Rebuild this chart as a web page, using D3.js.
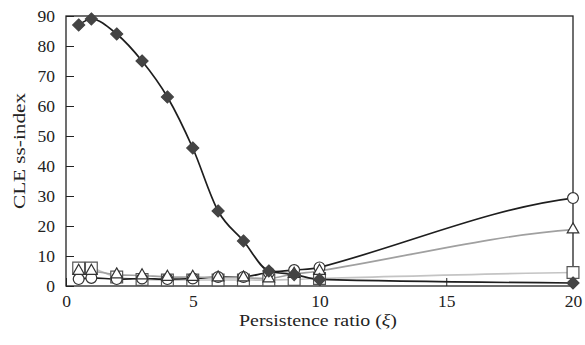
<!DOCTYPE html>
<html>
<head>
<meta charset="utf-8">
<script src="https://cdn.jsdelivr.net/npm/d3@7"></script>
<style>
  body { margin: 0; background: #fff; }
  text { font-family: "Liberation Serif", "DejaVu Serif", serif; fill: #222; }
</style>
</head>
<body>
<svg id="chart" width="585" height="345"></svg>
<script>
// persistence ratio values
const xs = [0.5, 1, 2, 3, 4, 5, 6, 7, 8, 9, 10, 20];
// CLE ss-index per series
const diamondVals  = [87, 89, 84, 75, 63, 46, 25, 15, 5, 3.8, 2.2, 1];
const circleVals   = [2.3, 2.7, 2.3, 2.5, 2.3, 2.5, 3, 3, 4.5, 5.3, 6.2, 29.3];
const triangleVals = [5, 5, 3.8, 3.5, 3, 3, 2.8, 2.8, 2.5, 4, 5, 18.8];
const squareVals   = [6, 6, 3, 2.2, 2, 2, 2, 2, 2, 2.2, 2.5, 4.5];
const xTicks = [0, 5, 10, 15, 20];
const yTicks = [0, 10, 20, 30, 40, 50, 60, 70, 80, 90];

const margin = {top: 16, right: 12, bottom: 59, left: 66};
const width = 585, height = 345;

const svg = d3.select("#chart");

const x = d3.scaleLinear().domain([0, 20]).range([margin.left, width - margin.right]);
const y = d3.scaleLinear().domain([0, 90]).range([height - margin.bottom, margin.top]);

// frame
svg.append("rect")
  .attr("x", x(0)).attr("y", y(90))
  .attr("width", x(20) - x(0)).attr("height", y(0) - y(90))
  .attr("fill", "none").attr("stroke", "#222").attr("stroke-width", 1.3);

// inward ticks
svg.append("g")
  .attr("transform", `translate(0,${y(0)})`)
  .call(d3.axisBottom(x).tickValues(xTicks).tickSizeInner(-8).tickSizeOuter(0).tickPadding(9))
  .call(g => g.select(".domain").remove())
  .call(g => g.selectAll("line").attr("stroke", "#222"))
  .call(g => g.selectAll("text").attr("font-size", 17.5).attr("fill", "#222"));

svg.append("g")
  .attr("transform", `translate(${x(0)},0)`)
  .call(d3.axisLeft(y).tickValues(yTicks).tickSizeInner(-8).tickSizeOuter(0).tickPadding(11))
  .call(g => g.select(".domain").remove())
  .call(g => g.selectAll("line").attr("stroke", "#222"))
  .call(g => g.selectAll("text").attr("font-size", 17.5).attr("fill", "#222"));

// axis titles
svg.append("text")
  .attr("x", 318).attr("y", 326)
  .attr("text-anchor", "middle").attr("font-size", 17.5)
  .attr("textLength", 158).attr("lengthAdjust", "spacingAndGlyphs")
  .html('Persistence ratio (<tspan font-style="italic">ξ</tspan>)');

svg.append("text")
  .attr("transform", `translate(25,${(y(0) + y(90)) / 2}) rotate(-90)`)
  .attr("text-anchor", "middle").attr("font-size", 17.5)
  .attr("textLength", 116).attr("lengthAdjust", "spacingAndGlyphs")
  .text("CLE ss-index");

// hermite curve, central-difference tangents, end tangent eased off
// (the original plot flattens a bit towards xi = 20)
function curveEased(context) {
  let pts;
  return {
    areaStart() {}, areaEnd() {},
    lineStart() { pts = []; },
    point(px, py) { pts.push([+px, +py]); },
    lineEnd() {
      const n = pts.length;
      if (!n) return;
      const m = pts.map((p, i) => {
        if (n < 2) return 0;
        if (i === 0) return (pts[1][1] - p[1]) / (pts[1][0] - p[0]);
        if (i === n - 1) return 0.45 * (p[1] - pts[i - 1][1]) / (p[0] - pts[i - 1][0]);
        return (pts[i + 1][1] - pts[i - 1][1]) / (pts[i + 1][0] - pts[i - 1][0]);
      });
      context.moveTo(pts[0][0], pts[0][1]);
      for (let i = 1; i < n; i++) {
        const [x0, y0] = pts[i - 1], [x1, y1] = pts[i], h = (x1 - x0) / 3;
        context.bezierCurveTo(x0 + h, y0 + h * m[i - 1], x1 - h, y1 - h * m[i], x1, y1);
      }
    }
  };
}

const smooth = d3.line()
  .x(d => x(d[0]))
  .y(d => y(d[1]))
  .curve(d3.curveMonotoneX);

const eased = d3.line()
  .x(d => x(d[0]))
  .y(d => y(d[1]))
  .curve(curveEased);

const diamond = {draw(ctx, size) {
  const r = Math.sqrt(size) / 2 * Math.SQRT2;
  ctx.moveTo(0, -r); ctx.lineTo(r, 0); ctx.lineTo(0, r); ctx.lineTo(-r, 0); ctx.closePath();
}};

const series = [
  {vals: squareVals,   lineColor: "#c4c4c4", gen: eased,  shape: d3.symbolSquare,   size: 140, fill: "#fff", stroke: "#555"},
  {vals: circleVals,   lineColor: "#1e1e1e", gen: eased,  shape: d3.symbolCircle,   size: 92,  fill: "#fff", stroke: "#333"},
  {vals: triangleVals, lineColor: "#a0a0a0", gen: eased,  shape: d3.symbolTriangle, size: 58,  fill: "#fff", stroke: "#333"},
  {vals: diamondVals,  lineColor: "#1e1e1e", gen: smooth, shape: diamond,           size: 72,  fill: "#444", stroke: "#444"}
];

series.forEach(s => {
  const pts = xs.map((v, i) => [v, s.vals[i]]);
  svg.append("path")
    .datum(pts)
    .attr("fill", "none")
    .attr("stroke", s.lineColor)
    .attr("stroke-width", 1.7)
    .attr("d", s.gen);
});

series.forEach(s => {
  const pts = xs.map((v, i) => [v, s.vals[i]]);
  svg.append("g")
    .selectAll("path")
    .data(pts)
    .join("path")
      .attr("transform", d => `translate(${x(d[0])},${y(d[1])})`)
      .attr("d", d3.symbol().type(s.shape).size(s.size))
      .attr("fill", s.fill)
      .attr("stroke", s.stroke)
      .attr("stroke-width", 1.2);
});
</script>
</body>
</html>
